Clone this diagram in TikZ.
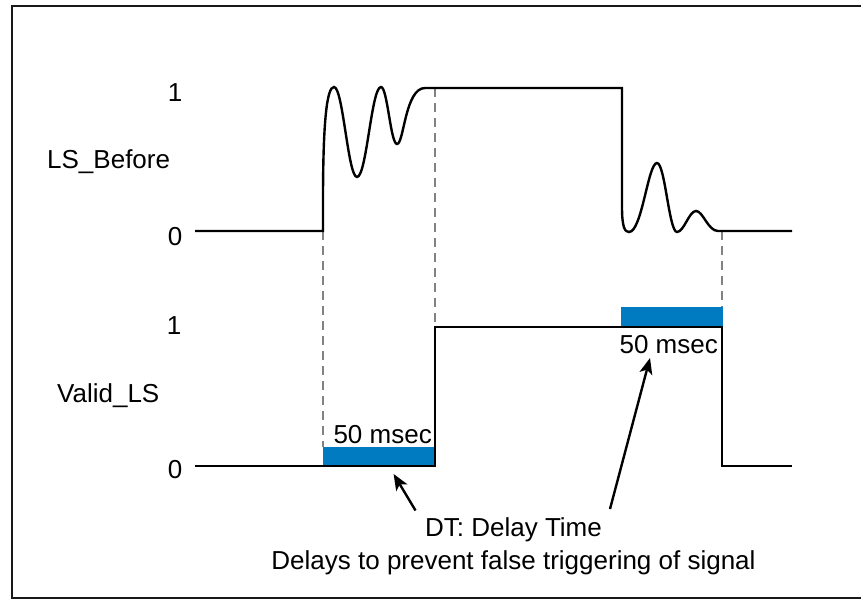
\documentclass[tikz,border=0pt]{standalone}
\usepackage{fontspec}
\setmainfont{Liberation Sans}
\usetikzlibrary{arrows.meta}
\definecolor{dtblue}{RGB}{0,122,193}
\definecolor{dashgray}{RGB}{130,130,130}
\definecolor{framecol}{RGB}{25,25,25}
\begin{document}
\begin{tikzpicture}[x=1pt,y=-1pt,
  sig/.style={line width=2.4pt, black, line join=miter},
  guide/.style={dashgray, line width=2.3pt, dash pattern=on 9pt off 6pt},
  lbl/.style={font=\fontsize{26}{31}\selectfont, inner sep=0pt},
  dtbar/.style={fill=dtblue, draw=none, inner sep=0pt},
  ptr/.style={line width=2.4pt, -{Stealth[length=16pt,width=13pt,inset=4pt]}},
  frame/.style={line width=2.6pt, framecol}]
\useasboundingbox (0,0) rectangle (861,601);
% outer frame
\draw[frame] (12,6) rectangle (868,598);
% delay bars
\node[dtbar, anchor=south west, minimum width=112pt, minimum height=19pt] (bar1) at (323,466) {};
\node[dtbar, anchor=south west, minimum width=102pt, minimum height=20pt] (bar2) at (621,327) {};
% guide lines
\coordinate (g1a) at (323,231); \coordinate (g1b) at (323,447);
\coordinate (g2a) at (435,88);  \coordinate (g2b) at (435,327);
\coordinate (g3a) at (722,231); \coordinate (g3b) at (722,307);
\draw[guide] (g1a) -- (g1b);
\draw[guide] (g2a) -- (g2b);
\draw[guide] (g3a) -- (g3b);
% LS_Before signal
\draw[sig] (195,231) -- (323,231) -- (323,200)
  .. controls (323,120) and (327,87) .. (334,87)
  .. controls (343,87) and (348,177) .. (357,177)
  .. controls (366.6,177) and (371.4,87) .. (381,87)
  .. controls (387.4,87) and (390.6,144) .. (397,144)
  .. controls (404,144) and (405,88) .. (425,88)
  -- (622,88) -- (622,207)
  .. controls (622,228) and (625,232) .. (629,232)
  .. controls (642,232) and (648,163) .. (657,163)
  .. controls (665,163) and (669,232) .. (677,232)
  .. controls (684,232) and (689,211) .. (696,211)
  .. controls (703,211) and (708,231) .. (718,231)
  -- (792,231);
% Valid_LS signal
\draw[sig] (195,466) -- (435,466) -- (435,327) -- (722,327) -- (722,466) -- (792,466);
% labels
\node[lbl, anchor=base] (ls1) at (175,102) {1};
\node[lbl, anchor=base] (ls0) at (175,246) {0};
\node[lbl, anchor=base west] (lsname) at (47,169) {LS\_Before};
\node[lbl, anchor=base] (v1) at (174,334) {1};
\node[lbl, anchor=base] (v0) at (175,478) {0};
\node[lbl, anchor=base west] (vname) at (57,402) {Valid\_LS};
\node[lbl, anchor=base east] (ms1) at (432,443) {50 msec};
\node[lbl, anchor=base east] (ms2) at (718,353) {50 msec};
\node[lbl, anchor=base] (dt) at (513.5,536.5) {DT: Delay Time};
\node[lbl, anchor=base] (dtnote) at (513.5,569) {Delays to prevent false triggering of signal};
% pointer arrows
\coordinate (t1) at (415.5,510.5); \coordinate (h1) at (393.6,474);
\coordinate (t2) at (610,509);     \coordinate (h2) at (650,358);
\draw[ptr] (t1) -- (h1);
\draw[ptr] (t2) -- (h2);
\end{tikzpicture}
\end{document}
